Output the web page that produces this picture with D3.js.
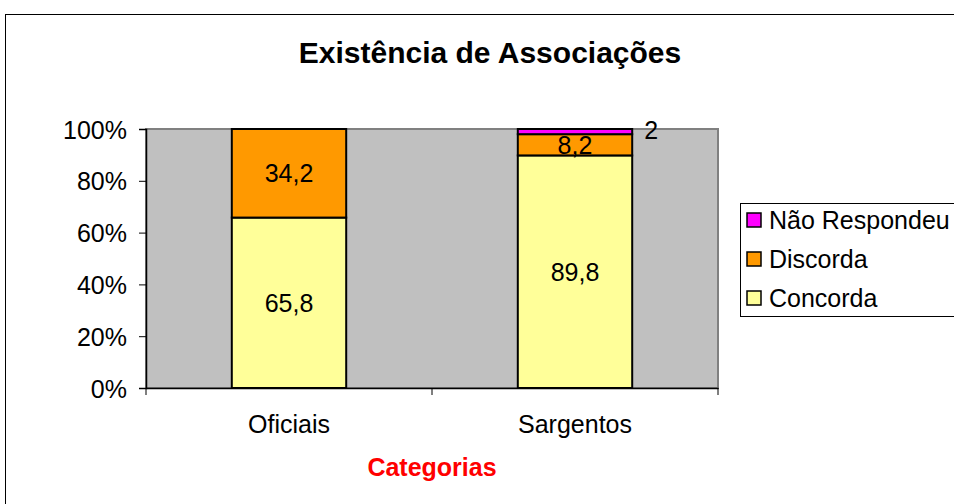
<!DOCTYPE html>
<html>
<head>
<meta charset="utf-8">
<script src="https://cdn.jsdelivr.net/npm/d3@7"></script>
<style>
  body { margin: 0; background: #fff; }
  svg text { font-family: "Liberation Sans", Arial, sans-serif; }
</style>
</head>
<body>
<div id="chart"></div>
<script>
// categories and series (percent)
var categories = ["Oficiais", "Sargentos"];
var seriesNames = ["Concorda", "Discorda", "Não Respondeu"];
var concorda = [65.8, 89.8];
var discorda = [34.2, 8.2];
var naoRespondeu = [0, 2];
var yTicks = [0, 20, 40, 60, 80, 100];

var colors = {"Concorda": "#FFFF99", "Discorda": "#FF9900", "Não Respondeu": "#FF00FF"};

var width = 954, height = 504;
var plot = {left: 146, right: 718, top: 129, bottom: 388};

var svg = d3.select("#chart").append("svg").attr("width", width).attr("height", height);

// outer chart frame (runs off the right and bottom edges)
svg.append("rect").attr("x", 5.5).attr("y", 14.5).attr("width", 960).attr("height", 500)
    .attr("fill", "#fff").attr("stroke", "#000").attr("stroke-width", 1);

svg.append("text").attr("x", 490).attr("y", 63).attr("text-anchor", "middle")
    .attr("font-size", "30px").attr("font-weight", "bold").text("Existência de Associações");

// build table for d3.stack
var table = categories.map(function (c, i) {
    return {cat: c, "Concorda": concorda[i], "Discorda": discorda[i], "Não Respondeu": naoRespondeu[i]};
});
var series = d3.stack().keys(seriesNames)(table);

var x = d3.scaleBand().domain(categories).range([plot.left, plot.right]).paddingInner(0).paddingOuter(0);
var y = d3.scaleLinear().domain([0, 100]).range([plot.bottom, plot.top]);
var barW = x.bandwidth() * 0.4;

// plot background
svg.append("rect").attr("x", plot.left).attr("y", plot.top)
    .attr("width", plot.right - plot.left).attr("height", plot.bottom - plot.top)
    .attr("fill", "#C0C0C0").attr("stroke", "#808080").attr("stroke-width", 2);

var g = svg.append("g");
series.forEach(function (s) {
    g.selectAll(null).data(s).enter().append("rect")
        .attr("x", function (d) { return x(d.data.cat) + (x.bandwidth() - barW) / 2; })
        .attr("y", function (d) { return y(d[1]); })
        .attr("width", barW)
        .attr("height", function (d) { return y(d[0]) - y(d[1]); })
        .attr("fill", colors[s.key])
        .attr("stroke", "#000").attr("stroke-width", 2)
        .attr("display", function (d) { return d[1] - d[0] > 0 ? null : "none"; });
});

// value labels
series.forEach(function (s) {
    s.forEach(function (d) {
        var v = d[1] - d[0];
        if (v <= 0) return;
        var cx = x(d.data.cat) + x.bandwidth() / 2;
        var tx = cx, anchor = "middle", ty = y((d[0] + d[1]) / 2) + 9;
        if (v < 5) { tx = cx + barW / 2 + 12; anchor = "start"; ty = y(d[1]) + 10; }
        svg.append("text").attr("x", tx).attr("y", ty).attr("text-anchor", anchor)
            .attr("font-size", "25px").text(String(v.toFixed(1).replace(/\.0$/, "")).replace(".", ","));
    });
});

// y axis
var yAxis = svg.append("g").attr("transform", "translate(" + plot.left + ",0)")
    .call(d3.axisLeft(y).tickValues(yTicks).tickSize(7).tickFormat(function (d) { return d + "%"; }));
yAxis.select(".domain").attr("stroke", "#000").attr("stroke-width", 1.5);
yAxis.selectAll(".tick text").attr("font-size", "25px").attr("fill", "#000").attr("x", -19).attr("dy", "0.36em")
    .style("font-family", "Liberation Sans, Arial, sans-serif");

// x axis
var xAxis = svg.append("g").attr("transform", "translate(0," + plot.bottom + ")")
    .call(d3.axisBottom(x).tickSize(0).tickSizeOuter(0));
xAxis.select(".domain").attr("stroke", "#000").attr("stroke-width", 1.5);
xAxis.selectAll(".tick text").attr("font-size", "25px").attr("fill", "#000").attr("y", 45).attr("dy", 0)
    .style("font-family", "Liberation Sans, Arial, sans-serif");
// category boundary ticks
var bounds = [plot.left].concat(categories.map(function (c) { return x(c) + x.bandwidth(); }));
svg.selectAll(null).data(bounds).enter().append("line")
    .attr("x1", function (d) { return d; }).attr("x2", function (d) { return d; })
    .attr("y1", plot.bottom).attr("y2", plot.bottom + 7).attr("stroke", "#000");

svg.append("text").attr("x", 432).attr("y", 476).attr("text-anchor", "middle")
    .attr("font-size", "25px").attr("font-weight", "bold").attr("fill", "#FF0000").text("Categorias");

// legend
var lg = svg.append("g");
lg.append("rect").attr("x", 740.5).attr("y", 203.5).attr("width", 230).attr("height", 113)
    .attr("fill", "#fff").attr("stroke", "#000");
var legendOrder = seriesNames.slice().reverse();
legendOrder.forEach(function (k, i) {
    var cy = 220 + i * 39;
    lg.append("rect").attr("x", 747).attr("y", cy - 7).attr("width", 14).attr("height", 14)
        .attr("fill", colors[k]).attr("stroke", "#000").attr("stroke-width", 1.5);
    lg.append("text").attr("x", 769).attr("y", cy + 9).attr("font-size", "25px").text(k);
});
</script>
</body>
</html>
